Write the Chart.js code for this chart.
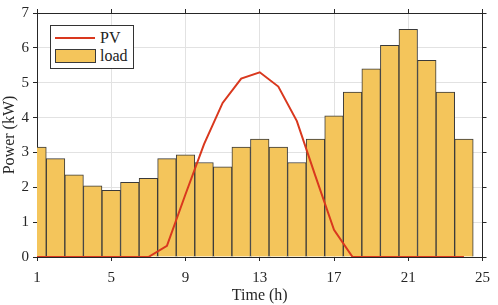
<!DOCTYPE html>
<html lang="en">
<head>
    <meta charset="UTF-8">
    <title>PV and load</title>
    <script src="https://cdn.jsdelivr.net/npm/chart.js"></script>
    <style>
        body {
            margin: 0;
            background: #fff;
        }
        #wrap {
            position: relative;
            width: 498px;
            height: 305px;
        }
        #legend {
            position: absolute;
            left: 50px;
            top: 25px;
            width: 82px;
            height: 42px;
            background: #fff;
            border: 1px solid #333;
            font-family: 'Liberation Serif', serif;
            font-size: 16px;
            color: #222;
        }
        .row {
            position: absolute;
            left: 4px;
            height: 18px;
            line-height: 18px;
        }
        .row span.sw {
            position: absolute;
            left: 0;
        }
        .row span.tx {
            position: absolute;
            left: 45px;
        }
    </style>
</head>
<body>

<div id="wrap">
    <canvas id="myChart" width="498" height="305"></canvas>
    <div id="legend"></div>
</div>

<script>
// hours and values
const hours = [1, 2, 3, 4, 5, 6, 7, 8, 9, 10, 11, 12, 13, 14, 15, 16, 17, 18, 19, 20, 21, 22, 23, 24];
const pv = [0, 0, 0, 0, 0, 0, 0, 0.32, 1.8, 3.24, 4.42, 5.12, 5.3, 4.89, 3.9, 2.32, 0.78, 0, 0, 0, 0, 0, 0, 0];
const load = [3.15, 2.82, 2.36, 2.04, 1.91, 2.14, 2.26, 2.82, 2.93, 2.71, 2.59, 3.15,
              3.38, 3.15, 2.71, 3.38, 4.05, 4.73, 5.40, 6.07, 6.53, 5.64, 4.73, 3.38];
const xTicks = [1, 5, 9, 13, 17, 21, 25];
const yTicks = [0, 1, 2, 3, 4, 5, 6, 7];

const pvColor = '#D9381E';
const loadColor = '#F4C55B';
const axisColor = '#262626';
const font = { family: 'Liberation Serif', size: 15 };
const titleFont = { family: 'Liberation Serif', size: 16 };

const pvPoints = hours.map((h, i) => ({ x: h, y: pv[i] }));
const loadPoints = hours.map((h, i) => ({ x: h, y: load[i] }));

function fixSize(prop, val) {
    return function (scale) { scale[prop] = val; };
}

const ctx = document.getElementById('myChart').getContext('2d');
const chart = new Chart(ctx, {
    data: {
        datasets: [{
            type: 'line',
            label: 'PV',
            data: pvPoints,
            borderColor: pvColor,
            borderWidth: 2,
            pointRadius: 0,
            tension: 0,
            order: 1
        }, {
            type: 'bar',
            label: 'load',
            data: loadPoints,
            backgroundColor: loadColor,
            borderColor: '#3a3a3a',
            borderWidth: 1,
            barPercentage: 1,
            categoryPercentage: 1,
            order: 2
        }]
    },
    options: {
        responsive: false,
        animation: false,
        layout: { padding: { left: 0, right: 0, top: 0, bottom: 0 } },
        plugins: {
            legend: { display: false },
            tooltip: { enabled: false }
        },
        scales: {
            x: {
                type: 'linear',
                position: 'bottom',
                offset: false,
                min: 1,
                max: 25,
                afterBuildTicks: s => { s.ticks = xTicks.map(v => ({ value: v })); },
                afterFit: fixSize('height', 48),
                grid: { offset: false, color: '#e2e2e2', tickColor: axisColor, tickLength: 4 },
                border: { color: axisColor },
                ticks: { font: font, color: axisColor, padding: 8, maxRotation: 0 },
                title: { display: true, text: 'Time (h)', font: titleFont, color: axisColor, padding: { top: 0, bottom: 0 } }
            },
            x2: {
                type: 'linear',
                position: 'top',
                offset: false,
                min: 1,
                max: 25,
                afterBuildTicks: s => { s.ticks = xTicks.map(v => ({ value: v })); },
                afterFit: fixSize('height', 5),
                grid: { offset: false, drawOnChartArea: false, tickColor: axisColor, tickLength: 4 },
                border: { color: axisColor },
                ticks: { display: false }
            },
            y: {
                position: 'left',
                min: 0,
                max: 7,
                afterBuildTicks: s => { s.ticks = yTicks.map(v => ({ value: v })); },
                afterFit: fixSize('width', 37),
                grid: { color: '#e2e2e2', tickColor: axisColor, tickLength: 4 },
                border: { color: axisColor },
                ticks: { font: font, color: axisColor, padding: 4 },
                title: { display: true, text: 'Power (kW)', font: titleFont, color: axisColor, padding: { top: 0, bottom: 0 } }
            },
            y2: {
                position: 'right',
                min: 0,
                max: 7,
                afterBuildTicks: s => { s.ticks = yTicks.map(v => ({ value: v })); },
                afterFit: fixSize('width', 7),
                grid: { drawOnChartArea: false, tickColor: axisColor, tickLength: 4 },
                border: { color: axisColor },
                ticks: { display: false }
            }
        }
    }
});

// legend box built from the datasets
const legend = document.getElementById('legend');
chart.data.datasets.forEach((ds, i) => {
    const row = document.createElement('div');
    row.className = 'row';
    row.style.top = (i === 0 ? 3 : 21) + 'px';
    const sw = document.createElement('span');
    sw.className = 'sw';
    if (ds.type === 'line') {
        sw.style.cssText = 'top:8px;width:40px;height:2px;background:' + ds.borderColor;
    } else {
        sw.style.cssText = 'top:2px;width:39px;height:12px;background:' + ds.backgroundColor + ';border:1px solid #3a3a3a';
    }
    const tx = document.createElement('span');
    tx.className = 'tx';
    tx.textContent = ds.label;
    row.appendChild(sw);
    row.appendChild(tx);
    legend.appendChild(row);
});
</script>

</body>
</html>
